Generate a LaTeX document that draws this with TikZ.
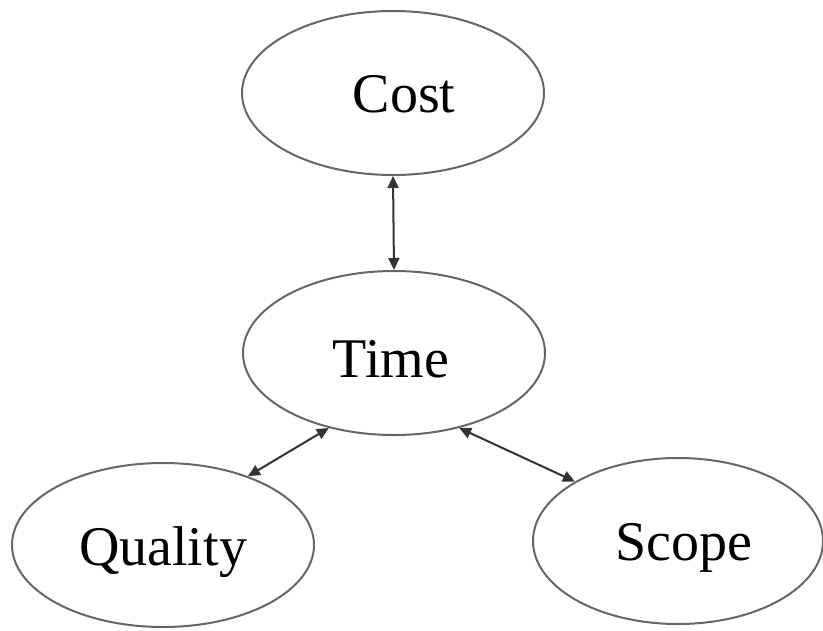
\documentclass[tikz,border=0pt]{standalone}
\usepackage{fontspec}
\setmainfont{Liberation Serif}
\usetikzlibrary{shapes.geometric,arrows.meta}

\begin{document}
\begin{tikzpicture}[x=1pt,y=-1pt,
  oval/.style={ellipse, draw=black!60, line width=2pt, inner sep=0pt,
               minimum width=302pt, minimum height=164pt},
  word/.style={anchor=base, inner sep=0pt, font=\fontsize{56}{60}\selectfont},
  link/.style={draw=black!80, line width=2pt,
               {Triangle[length=12pt,width=11pt]}-{Triangle[length=12pt,width=11pt]}}
]
\useasboundingbox (0,0) rectangle (823,630);

% ellipses
\node[oval] (cost) at (393,93) {};
\node[oval] (time) at (394,353) {};
\node[oval] (quality) at (163,545) {};
\node[oval, minimum width=290pt, minimum height=166pt] (scope) at (678,541) {};

% labels
\node[word] (costT) at (404,112) {Cost};
\node[word] (timeT) at (391,377) {Time};
\node[word] (qualityT) at (163,565) {Quality};
\node[word] (scopeT) at (684,560) {Scope};

% two-headed connectors
\draw[link] (cost.south) -- (time.north);
\draw[link] (time.229) -- (quality.39);
\draw[link] (time.311) -- (scope.150);
\end{tikzpicture}
\end{document}
